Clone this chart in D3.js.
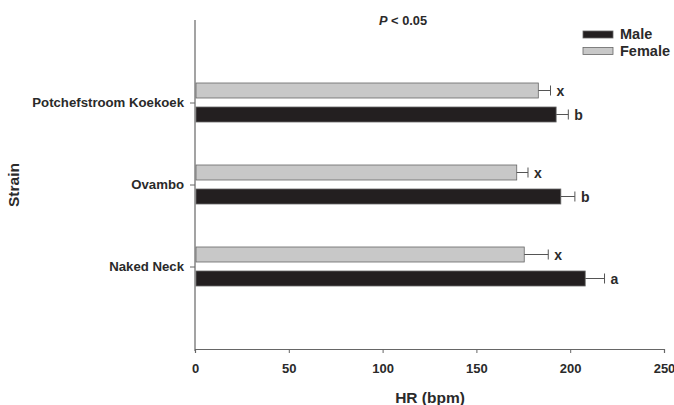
<!DOCTYPE html>
<html>
<head>
<meta charset="utf-8">
<script src="https://cdn.jsdelivr.net/npm/d3@7"></script>
<style>
  body { margin: 0; background: #fff; }
  text { font-family: "Liberation Sans", Arial, sans-serif; font-weight: bold; fill: #2a2a2a; }
</style>
</head>
<body>
<div id="chart"></div>
<script>
const W = 674, H = 405

// data
const strains = ['Potchefstroom Koekoek', 'Ovambo', 'Naked Neck']
const sexes = ['Female', 'Male']
const femaleHR = [183, 171.5, 175.5]
const femaleErr = [6.5, 6, 12.8]
const maleHR = [192.5, 195, 208]
const maleErr = [6.5, 7.5, 10.3]
const femaleLetters = ['x', 'x', 'x']
const maleLetters = ['b', 'b', 'a']
const xTicks = [0, 50, 100, 150, 200, 250]

const colors = {Male: '#231f20', Female: '#c8c8c8'}

const svg = d3.select('#chart').append('svg')
    .attr('width', W)
    .attr('height', H)

const x = d3.scaleLinear().domain([0, 250]).range([195, 664])
const y = d3.scaleBand().domain(strains).range([62, 308])
const sub = d3.scaleBand().domain(sexes).range([-20, 19]).paddingInner(0.375)

let rows = []
strains.forEach(function(s, i){
    rows.push({strain: s, sex: 'Female', v: femaleHR[i], e: femaleErr[i], l: femaleLetters[i]})
    rows.push({strain: s, sex: 'Male', v: maleHR[i], e: maleErr[i], l: maleLetters[i]})
})
function yc(d){ return y(d.strain) + y.bandwidth() / 2 }

// bars
svg.selectAll('rect.bar')
    .data(rows)
    .enter()
    .append('rect')
    .attr('class', 'bar')
    .attr('x', x(0) + 1)
    .attr('y', d => yc(d) + sub(d.sex))
    .attr('width', d => x(d.v) - x(0) - 1)
    .attr('height', sub.bandwidth())
    .attr('fill', d => colors[d.sex])
    .attr('stroke', '#666')
    .attr('stroke-width', 0.8)

// error bars
const eb = svg.selectAll('g.err').data(rows).enter().append('g').attr('class', 'err')
eb.append('line')
    .attr('x1', d => x(d.v)).attr('x2', d => x(d.v + d.e))
    .attr('y1', d => yc(d) + sub(d.sex) + sub.bandwidth() / 2)
    .attr('y2', d => yc(d) + sub(d.sex) + sub.bandwidth() / 2)
    .attr('stroke', '#555').attr('stroke-width', 1)
eb.append('line')
    .attr('x1', d => x(d.v + d.e)).attr('x2', d => x(d.v + d.e))
    .attr('y1', d => yc(d) + sub(d.sex) + sub.bandwidth() / 2 - 5)
    .attr('y2', d => yc(d) + sub(d.sex) + sub.bandwidth() / 2 + 5)
    .attr('stroke', '#555').attr('stroke-width', 1)

// significance letters
svg.selectAll('text.letter')
    .data(rows)
    .enter()
    .append('text')
    .attr('class', 'letter')
    .attr('x', d => x(d.v + d.e) + 6)
    .attr('y', d => yc(d) + sub(d.sex) + sub.bandwidth() / 2 + 5)
    .attr('font-size', '14px')
    .text(d => d.l)

// x axis
const xa = svg.append('g')
    .attr('transform', 'translate(0,349)')
    .call(d3.axisBottom(x).tickValues(xTicks).tickSize(4).tickPadding(11))
xa.select('.domain').attr('stroke', '#666').attr('stroke-width', 1.2)
xa.selectAll('.tick line').attr('stroke', '#666')
xa.selectAll('.tick text').attr('font-size', '13px').attr('fill', '#2a2a2a')

// y axis
const ya = svg.append('g')
    .attr('transform', 'translate(195,0)')
    .call(d3.axisLeft(y).tickSize(5).tickPadding(6))
ya.select('.domain').remove()
ya.selectAll('.tick line').attr('stroke', '#666')
ya.selectAll('.tick text').attr('font-size', '13.2px').attr('fill', '#2a2a2a')
svg.append('line')
    .attr('x1', 195).attr('x2', 195).attr('y1', 20).attr('y2', 351)
    .attr('stroke', '#666').attr('stroke-width', 1.2)

// axis titles
svg.append('text')
    .attr('x', 430).attr('y', 403)
    .attr('text-anchor', 'middle')
    .attr('font-size', '15.5px')
    .text('HR (bpm)')
svg.append('text')
    .attr('transform', 'translate(19,185) rotate(-90)')
    .attr('text-anchor', 'middle')
    .attr('font-size', '15.5px')
    .text('Strain')

// P value
const pt = svg.append('text')
    .attr('x', 379).attr('y', 25)
    .attr('font-size', '12.8px')
pt.append('tspan').attr('font-style', 'italic').text('P')
pt.append('tspan').text(' < 0.05')

// legend
const legend = svg.append('g')
    .selectAll('g')
    .data(['Male', 'Female'])
    .enter()
    .append('g')
    .attr('transform', (d, i) => 'translate(583,' + (31 + i * 16.5) + ')')
legend.append('rect')
    .attr('width', 30).attr('height', 7)
    .attr('fill', d => colors[d])
    .attr('stroke', '#666').attr('stroke-width', 0.8)
legend.append('text')
    .attr('x', 37).attr('y', 8)
    .attr('font-size', '14.5px')
    .text(d => d)
</script>
</body>
</html>
